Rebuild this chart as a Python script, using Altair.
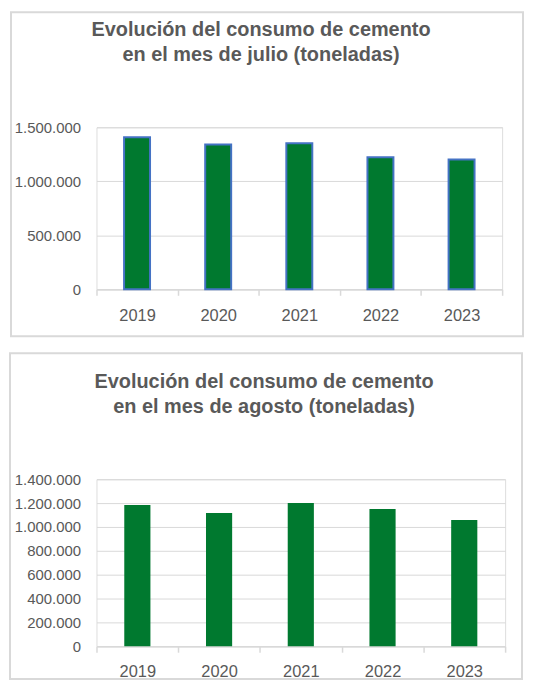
import altair as alt
import pandas as pd

# ---- data ----
years = ["2019", "2020", "2021", "2022", "2023"]
julio = [1407000, 1340000, 1352000, 1222000, 1201000]
agosto = [1183000, 1117000, 1200000, 1150000, 1058000]

julio_ticks = [0, 500000, 1000000, 1500000]
agosto_ticks = [0, 200000, 400000, 600000, 800000, 1000000, 1200000, 1400000]

title_julio = ["Evolución del consumo de cemento", "en el mes de julio (toneladas)"]
title_agosto = ["Evolución del consumo de cemento", "en el mes de agosto (toneladas)"]

GREEN = "#00792F"
BLUE = "#4472C4"
GRID = "#D9D9D9"
TEXT = "#595959"
FONT = "Liberation Sans"

one = pd.DataFrame({"k": [0]})


def panel(values, ticks, ymax, titles, w, h, bar_stroke, frame, title_pos):
    df = pd.DataFrame({"year": years, "value": values})
    bar_kwargs = dict(color=GREEN, width=alt.RelativeBandSize(0.32))
    if bar_stroke:
        bar_kwargs.update(stroke=BLUE, strokeWidth=2)
    bars = alt.Chart(df).mark_bar(**bar_kwargs).encode(
        x=alt.X(
            "year:N",
            sort=years,
            scale=alt.Scale(paddingInner=0, paddingOuter=0),
            axis=alt.Axis(
                title=None,
                labelAngle=0,
                labelFont=FONT,
                labelFontSize=16.5,
                labelColor=TEXT,
                labelPadding=12 if bar_stroke else 11,
                domainColor=GRID,
                domainWidth=1.5,
                tickColor=GRID,
                tickWidth=1.5,
                tickSize=6,
                tickBand="extent",
                grid=False,
            ),
        ),
        y=alt.Y(
            "value:Q",
            scale=alt.Scale(domain=[0, ymax], nice=False),
            axis=alt.Axis(
                title=None,
                values=ticks,
                format=",.0f",
                labelFont=FONT,
                labelFontSize=15,
                labelColor=TEXT,
                labelPadding=16,
                domain=False,
                ticks=False,
                grid=True,
                gridColor=GRID,
                gridWidth=1,
            ),
        ),
    )
    fx, fx2, fy, fy2 = frame
    box = alt.Chart(one).mark_rect(fillOpacity=0, stroke=GRID, strokeWidth=2).encode(
        x=alt.value(fx), x2=alt.value(fx2), y=alt.value(fy), y2=alt.value(fy2)
    )
    tx, ty1, ty2 = title_pos
    t1 = alt.Chart(one).mark_text(
        font=FONT, fontSize=20, fontWeight="bold", color=TEXT, align="center", baseline="alphabetic"
    ).encode(x=alt.value(tx), y=alt.value(ty1), text=alt.value(titles[0]))
    t2 = alt.Chart(one).mark_text(
        font=FONT, fontSize=20, fontWeight="bold", color=TEXT, align="center", baseline="alphabetic"
    ).encode(x=alt.value(tx), y=alt.value(ty2), text=alt.value(titles[1]))
    return alt.layer(box, bars, t1, t2).properties(width=w, height=h)


top = panel(julio, julio_ticks, 1500000, title_julio, 408, 163, True,
            (-86, 429, -115.7, 210.3), (165.5, -91.7, -67))
bottom = panel(agosto, agosto_ticks, 1400000, title_agosto, 411, 168, False,
               (-87, 428, -126.7, 201), (168.5, -91.4, -66.7))

chart = alt.vconcat(top, bottom, spacing=13).properties(padding=0).configure_view(
    stroke=None
).configure(
    locale={"number": {"decimal": ",", "thousands": ".", "grouping": [3], "currency": ["", " €"]}}
)

chart.save("out.html", embed_options={"renderer": "svg", "actions": False})
